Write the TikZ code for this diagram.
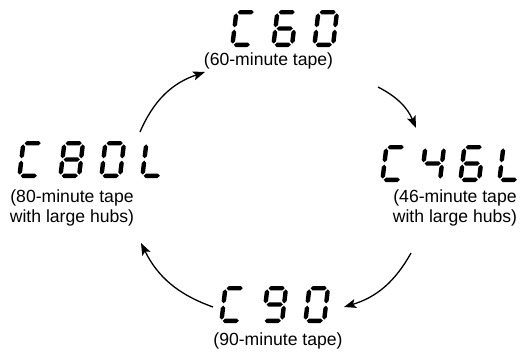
\documentclass[tikz,border=0pt]{standalone}
\usepackage{fontspec}
\setmainfont{Liberation Sans}
\usetikzlibrary{arrows.meta}
% seven-segment pieces in local coordinates (y up, origin bottom-left)
\def\dsega{\fill (3.4,34.8)--(5.6,37)--(17.4,37)--(19.6,34.8)--(17.4,32.6)--(5.6,32.6)--cycle;}
\def\dsegd{\fill (3.4,2.2)--(5.6,4.4)--(17.4,4.4)--(19.6,2.2)--(17.4,0)--(5.6,0)--cycle;}
\def\dsegg{\fill (3.4,18.5)--(5.6,20.7)--(17.4,20.7)--(19.6,18.5)--(17.4,16.3)--(5.6,16.3)--cycle;}
\def\dsegf{\fill (2.2,19.7)--(4.4,21.9)--(4.4,31.4)--(2.2,33.6)--(0,31.4)--(0,21.9)--cycle;}
\def\dsegb{\fill (20.8,19.7)--(23,21.9)--(23,31.4)--(20.8,33.6)--(18.6,31.4)--(18.6,21.9)--cycle;}
\def\dsege{\fill (2.2,3.4)--(4.4,5.6)--(4.4,15.1)--(2.2,17.3)--(0,15.1)--(0,5.6)--cycle;}
\def\dsegc{\fill (20.8,3.4)--(23,5.6)--(23,15.1)--(20.8,17.3)--(18.6,15.1)--(18.6,5.6)--cycle;}
\newcommand{\sevdigit}[2]{\begin{scope}[shift={#1},y=1pt,xslant=0.12]\foreach \s in #2{\csname dseg\s\endcsname}\end{scope}}
\def\dC{a,d,e,f}
\def\dZero{a,b,c,d,e,f}
\def\dFour{b,c,f,g}
\def\dSix{a,c,d,e,f,g}
\def\dEight{a,b,c,d,e,f,g}
\def\dNine{a,b,c,d,f,g}
\def\dL{d,e,f}
\begin{document}
\begin{tikzpicture}[x=1pt,y=-1pt,
  lbl/.style={inner sep=0pt,font=\fontsize{17.6}{20.5}\selectfont,align=center},
  arr/.style={line width=1.3pt,-{Stealth[length=12pt,width=9pt,inset=2.5pt]}}]
\useasboundingbox[fill=white] (0,0) rectangle (528,356);
% displays
\coordinate (d60) at (230,47);
\sevdigit{(230,47)}{\dC}
\sevdigit{(271,47)}{\dSix}
\sevdigit{(312,47)}{\dZero}
\coordinate (d46) at (380,182);
\sevdigit{(380,182)}{\dC}
\sevdigit{(419,182)}{\dFour}
\sevdigit{(458,182)}{\dSix}
\sevdigit{(497,182)}{\dL}
\coordinate (d80) at (17,178);
\sevdigit{(17,178)}{\dC}
\sevdigit{(58,178)}{\dEight}
\sevdigit{(99,178)}{\dZero}
\sevdigit{(140,178)}{\dL}
\coordinate (d90) at (219,323);
\sevdigit{(219,323)}{\dC}
\sevdigit{(261,323)}{\dNine}
\sevdigit{(303,323)}{\dZero}
% labels
\node[lbl] (t60) at (268.5,61) {(60-minute tape)};
\node[lbl] (t46) at (455,208) {(46-minute tape\\with large hubs)};
\node[lbl] (t80) at (72,208) {(80-minute tape\\with large hubs)};
\node[lbl] (t90) at (278,341) {(90-minute tape)};
% arrows
\coordinate (a1s) at (140,132); \coordinate (a1e) at (205,72);
\coordinate (a2s) at (378,87);  \coordinate (a2e) at (416,128);
\coordinate (a3s) at (411,253); \coordinate (a3e) at (344,307);
\coordinate (a4s) at (213,307); \coordinate (a4e) at (141,243);
\draw[arr] (a1s) to[bend left=24] (a1e);
\draw[arr] (a2s) to[bend left=20] (a2e);
\draw[arr] (a3s) to[bend left=22] (a3e);
\draw[arr] (a4s) to[bend left=22] (a4e);
\end{tikzpicture}
\end{document}
